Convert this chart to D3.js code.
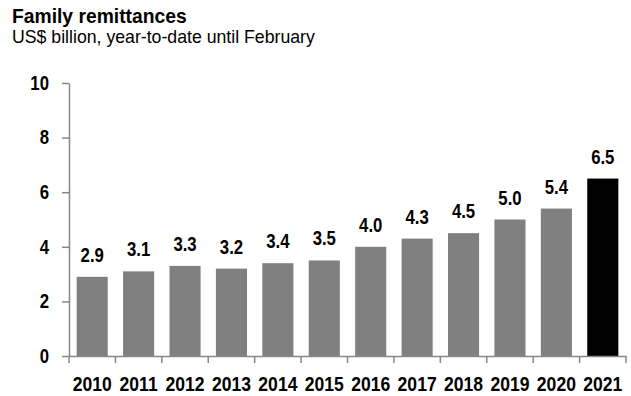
<!DOCTYPE html>
<html>
<head>
<meta charset="utf-8">
<script src="https://cdn.jsdelivr.net/npm/d3@7"></script>
<style>
  body { margin: 0; background: #fff; }
  text { font-family: "Liberation Sans", Arial, sans-serif; }
</style>
</head>
<body>
<div id="chart-area"></div>
<script>
var years = ["2010", "2011", "2012", "2013", "2014", "2015", "2016", "2017", "2018", "2019", "2020", "2021"];
var values = [2.9, 3.1, 3.3, 3.2, 3.4, 3.5, 4.0, 4.3, 4.5, 5.0, 5.4, 6.5];
var yTicks = [0, 2, 4, 6, 8, 10];

var width = 631;
var height = 396;
var margin = { left: 69, right: 5, top: 83, bottom: 40 };
var squeeze = 0.86; // numbers in the original look condensed

var svg = d3.select("#chart-area").append("svg")
    .attr("width", width)
    .attr("height", height);

// titles
svg.append("text")
    .attr("x", 12)
    .attr("y", 23)
    .attr("font-size", "19.3px")
    .attr("font-weight", "bold")
    .text("Family remittances");
svg.append("text")
    .attr("x", 12)
    .attr("y", 43)
    .attr("font-size", "17.7px")
    .text("US$ billion, year-to-date until February");

var g = svg.append("g")
    .attr("transform", "translate(" + margin.left + ", " + margin.top + ")");

var innerW = 626 - margin.left;
var innerH = 356 - margin.top;

var x = d3.scaleBand()
    .domain(years)
    .range([0, innerW])
    .paddingInner(0.33)
    .paddingOuter(0.165);

var y = d3.scaleLinear()
    .domain([0, 10])
    .range([innerH, 0]);

// bars
g.selectAll("rect.bar")
    .data(years)
    .enter()
    .append("rect")
    .attr("class", "bar")
    .attr("x", (d) => x(d))
    .attr("y", (d, i) => y(values[i]))
    .attr("width", x.bandwidth())
    .attr("height", (d, i) => innerH - y(values[i]))
    .attr("fill", (d, i) => i === years.length - 1 ? "#000000" : "#808080");

// value labels
g.selectAll("text.val")
    .data(years)
    .enter()
    .append("text")
    .attr("class", "val")
    .attr("transform", (d, i) => "translate(" + (x(d) + x.bandwidth() / 2) + "," + (y(values[i]) - 15) + ") scale(" + squeeze + ",1)")
    .attr("text-anchor", "middle")
    .attr("font-size", "19.5px")
    .attr("font-weight", "bold")
    .attr("fill", "#000")
    .text((d, i) => values[i].toFixed(1));

// left axis
var leftAxis = d3.axisLeft(y).tickValues(yTicks).tickSize(7).tickSizeOuter(0);
var ly = g.append("g").attr("class", "left axis").call(leftAxis);
ly.select(".domain").attr("stroke", "#878787").attr("stroke-width", 1.5);
ly.selectAll(".tick line").attr("stroke", "#878787").attr("stroke-width", 1.5);
ly.selectAll(".tick text")
    .attr("x", -20 / squeeze)
    .attr("transform", "scale(" + squeeze + ",1)")
    .attr("font-size", "19.5px")
    .attr("font-weight", "bold")
    .attr("fill", "#000")
    .style("font-family", "'Liberation Sans', Arial, sans-serif");

// bottom axis
var bottomAxis = d3.axisBottom(x).tickSize(0).tickPadding(0);
var bx = g.append("g")
    .attr("class", "bottom axis")
    .attr("transform", "translate(0, " + innerH + ")")
    .call(bottomAxis);
bx.select(".domain").attr("stroke", "#878787").attr("stroke-width", 1.5);
bx.selectAll(".tick text")
    .attr("y", 35)
    .attr("dy", 0)
    .attr("transform", "scale(" + (squeeze + 0.04) + ",1)")
    .attr("font-size", "19.5px")
    .attr("font-weight", "bold")
    .attr("fill", "#000")
    .style("font-family", "'Liberation Sans', Arial, sans-serif");

// category boundary ticks
var step = x.step();
var bounds = d3.range(years.length + 1).map((i) => i * step);
bx.selectAll("line.bound")
    .data(bounds)
    .enter()
    .append("line")
    .attr("class", "bound")
    .attr("x1", (d) => d)
    .attr("x2", (d) => d)
    .attr("y1", 0)
    .attr("y2", 7)
    .attr("stroke", "#878787")
    .attr("stroke-width", 1.5);
</script>
</body>
</html>
